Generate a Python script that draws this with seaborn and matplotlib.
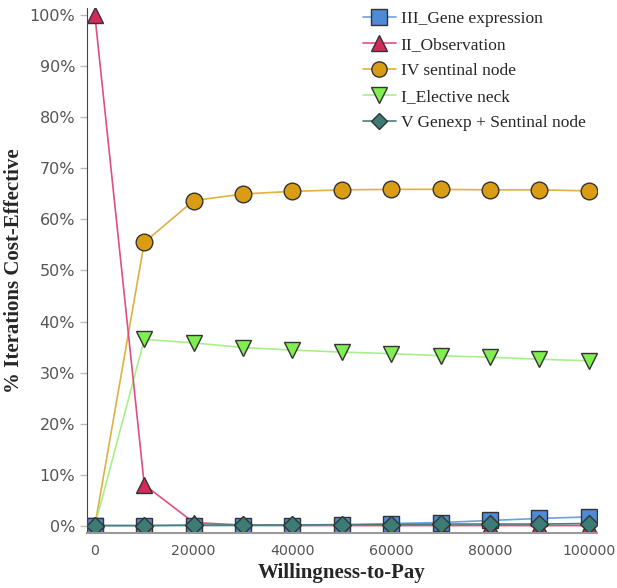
import pandas as pd
import seaborn as sns
import matplotlib.pyplot as plt
from matplotlib.lines import Line2D
from matplotlib.ticker import PercentFormatter

# data (% of iterations cost-effective)
wtp = [0, 10000, 20000, 30000, 40000, 50000, 60000, 70000, 80000, 90000, 100000]
gene_expr = [0, 0, 0, 0, 0, 0.1, 0.4, 0.6, 1.0, 1.4, 1.7]
observation = [100, 8.0, 0.6, 0.1, 0.05, 0, 0, 0, 0, 0, 0]
sentinal = [0, 55.5, 63.7, 65.0, 65.5, 65.8, 65.9, 65.9, 65.8, 65.8, 65.6]
elective_neck = [0, 36.5, 35.8, 34.9, 34.4, 34.0, 33.7, 33.3, 33.0, 32.6, 32.3]
genexp_sentinal = [0, 0, 0.1, 0.1, 0.1, 0.2, 0.2, 0.3, 0.3, 0.3, 0.4]

series_names = ["III_Gene expression", "II_Observation", "IV sentinal node",
                "I_Elective neck", "V Genexp + Sentinal node"]
series_values = [gene_expr, observation, sentinal, elective_neck, genexp_sentinal]

# style per series: line colour, marker face, marker, size
styles = {
    "III_Gene expression": ("#6fa0dc", "#4f8ad6", "s", 12),
    "II_Observation": ("#e0507a", "#d42a5a", "^", 12),
    "IV sentinal node": ("#e0b040", "#d99c12", "o", 12),
    "I_Elective neck": ("#a8f08a", "#80ee50", "v", 12),
    "V Genexp + Sentinal node": ("#4a7e7a", "#3d7c74", "D", 9),
}
draw_order = ["IV sentinal node", "I_Elective neck", "II_Observation",
              "III_Gene expression", "V Genexp + Sentinal node"]

df = pd.DataFrame({"wtp": wtp})
for name, vals in zip(series_names, series_values):
    df[name] = vals

sns.set_style("white")
fig = plt.figure(figsize=(6.17, 5.88), dpi=100)
ax = fig.add_axes([0.141, 0.094, 0.826, 0.892])

for name in draw_order:
    lc, fc, mk, ms = styles[name]
    sns.lineplot(data=df, x="wtp", y=name, ax=ax, color=lc, linewidth=1.2,
                 marker=mk, markersize=ms, markerfacecolor=fc,
                 markeredgecolor="#333333", markeredgewidth=1.0)

ax.set_xlim(-1600, 101600)
ax.set_ylim(-1.4, 101.4)
ax.set_xticks([0, 20000, 40000, 60000, 80000, 100000])
ax.set_yticks(range(0, 101, 10))
ax.yaxis.set_major_formatter(PercentFormatter(decimals=0))
ax.tick_params(axis="y", length=5, width=1, color="#bbbbbb", left=True,
               labelsize=11.5, labelcolor="#555555")
ax.tick_params(axis="x", length=0, labelsize=10.2, labelcolor="#555555", pad=8)

for side in ["top", "right"]:
    ax.spines[side].set_visible(False)
ax.spines["left"].set_color("#444444")
ax.spines["bottom"].set_color("#999999")
ax.spines["bottom"].set_linewidth(1.5)

ax.set_xlabel("Willingness-to-Pay", family="Liberation Serif", weight="bold",
              fontsize=15, labelpad=4)
ax.set_ylabel("% Iterations Cost-Effective", family="Liberation Serif",
              weight="bold", fontsize=15, labelpad=4)

handles = []
for name in series_names:
    lc, fc, mk, ms = styles[name]
    handles.append(Line2D([], [], color=lc, linewidth=1.2, marker=mk,
                          markersize=ms - 1, markerfacecolor=fc,
                          markeredgecolor="#333333", markeredgewidth=1.0))
ax.legend(handles, series_names, loc="upper left", bbox_to_anchor=(0.527, 1.008),
          borderaxespad=0, frameon=False,
          prop={"family": "Liberation Serif", "size": 12.5},
          handlelength=1.9, labelspacing=0.56, handletextpad=0.3)

plt.savefig("out.png", dpi=100)
plt.close()
